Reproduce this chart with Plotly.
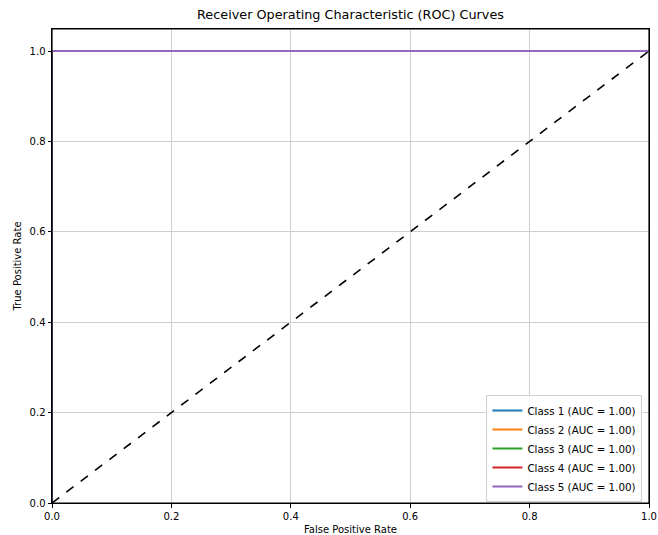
import plotly.graph_objects as go

classes = ["Class 1", "Class 2", "Class 3", "Class 4", "Class 5"]
auc_values = [1.00, 1.00, 1.00, 1.00, 1.00]
fpr_values = [[0.0, 0.0, 1.0]] * 5
tpr_values = [[0.0, 1.0, 1.0]] * 5
colors = ["#1f77b4", "#ff7f0e", "#2ca02c", "#d62728", "#9467bd"]
diag_x = [0.0, 1.0]
diag_y = [0.0, 1.0]
tick_vals = [0.0, 0.2, 0.4, 0.6, 0.8, 1.0]
tick_text = ["0.0", "0.2", "0.4", "0.6", "0.8", "1.0"]

W, H = 658, 535

fig = go.Figure()
for name, auc, fx, ty, c in zip(classes, auc_values, fpr_values, tpr_values, colors):
    fig.add_trace(go.Scatter(x=fx, y=ty, mode="lines", name=f"{name} (AUC = {auc:.2f})",
                             line=dict(color=c, width=2)))
fig.add_trace(go.Scatter(x=diag_x, y=diag_y, mode="lines", showlegend=False,
                         line=dict(color="black", width=1.6, dash="dash")))

axis_common = dict(showgrid=True, gridcolor="#cfcfcf", gridwidth=1,
                   showline=True, linecolor="black", linewidth=1, mirror=True,
                   ticks="outside", ticklen=3.5, tickcolor="black", zeroline=False,
                   tickvals=tick_vals, ticktext=tick_text, automargin=False,
                   tickfont=dict(size=10, color="black"))

# spines drawn above the data lines (as matplotlib does)
fig.add_shape(type="rect", xref="paper", yref="paper", x0=0, y0=0, x1=1, y1=1,
              line=dict(color="black", width=1.2), layer="above")

fig.update_layout(
    width=W, height=H,
    margin=dict(l=52, r=9, t=29, b=32),
    paper_bgcolor="white", plot_bgcolor="white",
    font=dict(family="DejaVu Sans", color="black", size=10),
    title=dict(text="Receiver Operating Characteristic (ROC) Curves", x=0.5, xref="paper",
               xanchor="center", y=1 - 15/H, yanchor="middle", font=dict(size=12.8)),
    xaxis=dict(range=[0, 1], title=dict(text="False Positive Rate", standoff=7, font=dict(size=10)), **axis_common),
    yaxis=dict(range=[0, 1 + 22/452], title=dict(text="True Positive Rate", standoff=6, font=dict(size=10)), **axis_common),
    legend=dict(x=0.989, y=0.002, xanchor="right", yanchor="bottom",
                bordercolor="#d0d0d0", borderwidth=1, bgcolor="rgba(255,255,255,0.8)",
                font=dict(size=10.3), tracegroupgap=0, itemwidth=30),
    showlegend=True,
)

fig.write_html("out.html", config={"displayModeBar": False},
               post_script="document.body.style.margin='0';document.body.style.overflow='hidden';")
